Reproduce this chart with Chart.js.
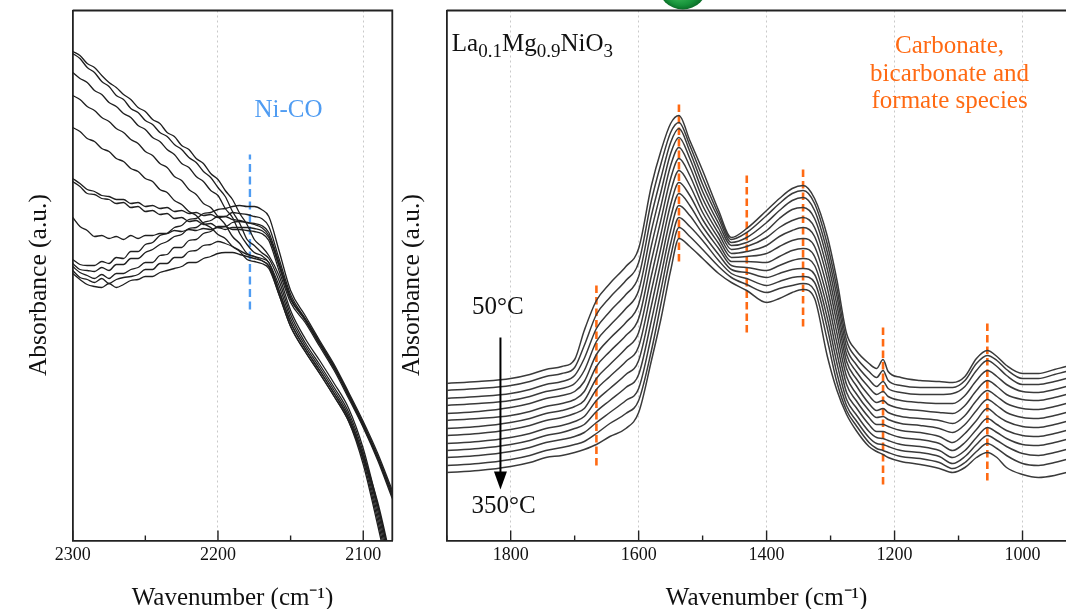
<!DOCTYPE html>
<html>
<head>
<meta charset="utf-8">
<title>DRIFTS spectra – La0.1Mg0.9NiO3</title>
<script src="https://cdn.jsdelivr.net/npm/chart.js@4.4.1/dist/chart.umd.min.js"></script>
<style>
  html, body { margin: 0; padding: 0; background: #fff; width: 1066px; height: 609px; overflow: hidden; }
  canvas { position: absolute; top: 0; }
  #left { left: 0; }
  #right { left: 390px; }
</style>
</head>
<body>
<canvas id="left" width="396" height="616"></canvas>
<canvas id="right" width="700" height="616"></canvas>
<script>
// ---------------- Left panel: Ni–CO region (2300–2080 cm-1) ----------------
const leftWavenumbers = [2300, 2295, 2290, 2285, 2280, 2275, 2270, 2265, 2260, 2255, 2250, 2245, 2240, 2235,
                         2230, 2225, 2220, 2215, 2210, 2205, 2200, 2195, 2190, 2185, 2180, 2175, 2170, 2165,
                         2158, 2150, 2140, 2130, 2120, 2110, 2100, 2090, 2080];
const leftScan1  = [489, 485, 477, 473, 465, 458, 453, 446, 441, 433, 429, 421, 417, 408, 404, 395, 391, 382, 377, 367, 361, 350, 341, 327, 316, 301, 294, 285, 265, 230, 202, 180, 157, 132, 92, 35, -30];
const leftScan2  = [487, 482, 473, 468, 459, 454, 445, 441, 432, 428, 420, 416, 408, 404, 396, 391, 383, 378, 369, 363, 353, 344, 329, 317, 301, 295, 288, 282, 260, 226, 198, 176, 153, 128, 88, 30, -35];
const leftScan3  = [468, 462, 458, 450, 446, 438, 434, 427, 423, 415, 411, 403, 399, 391, 386, 377, 373, 364, 359, 350, 345, 332, 323, 307, 296, 288, 285, 278, 255, 222, 195, 173, 150, 125, 84, 25, -40];
const leftScan4  = [445, 441, 434, 430, 423, 419, 412, 408, 401, 397, 389, 385, 377, 373, 364, 360, 351, 346, 337, 333, 324, 316, 304, 297, 287, 284, 280, 275, 250, 218, 192, 170, 147, 122, 80, 20, -45];
const leftScan5  = [413, 409, 402, 399, 392, 389, 382, 379, 372, 369, 362, 359, 351, 348, 340, 336, 329, 325, 317, 313, 306, 302, 294, 289, 281, 279, 277, 272, 246, 214, 189, 167, 144, 119, 76, 15, -50];
const leftScan6  = [362, 357, 351, 349, 345, 344, 341, 341, 337, 338, 334, 335, 332, 333, 329, 330, 327, 328, 325, 326, 323, 324, 321, 320, 318, 316, 313, 305, 275, 241, 221, 197, 173, 145, 116, 83, 46];
const leftScan7  = [359, 354, 347, 346, 342, 341, 337, 338, 333, 334, 329, 330, 326, 327, 322, 323, 319, 320, 316, 317, 313, 314, 311, 311, 310, 309, 307, 300, 270, 238, 218, 194, 170, 142, 113, 80, 42];
const leftScan8  = [323, 314, 310, 304, 305, 302, 304, 301, 305, 302, 305, 305, 307, 307, 310, 309, 311, 310, 312, 311, 313, 311, 313, 313, 313, 312, 310, 303, 275, 242, 222, 198, 174, 146, 117, 84, 47];
const leftScan9  = [281, 276, 275, 275, 279, 277, 283, 282, 289, 289, 296, 298, 305, 307, 313, 315, 321, 322, 327, 328, 331, 332, 334, 335, 334, 334, 331, 324, 290, 250, 225, 200, 176, 148, 119, 87, 50];
const leftScan10 = [277, 271, 270, 269, 273, 270, 276, 276, 282, 282, 288, 291, 296, 299, 304, 306, 312, 313, 318, 320, 324, 324, 328, 327, 326, 324, 322, 314, 282, 246, 222, 198, 174, 146, 116, 84, 47];
const leftScan11 = [274, 268, 265, 262, 266, 262, 267, 267, 271, 273, 278, 278, 285, 286, 293, 293, 300, 301, 307, 309, 314, 314, 318, 319, 318, 317, 315, 308, 278, 243, 220, 196, 172, 144, 114, 82, 44];
const leftScan12 = [270, 263, 261, 258, 262, 257, 261, 263, 264, 266, 271, 271, 277, 277, 283, 283, 289, 290, 295, 296, 299, 297, 294, 290, 286, 284, 282, 278, 250, 218, 192, 170, 147, 122, 85, 38, -25];
const leftScan13 = [267, 261, 256, 254, 253, 257, 253, 256, 260, 261, 264, 264, 268, 270, 272, 274, 278, 278, 282, 284, 287, 288, 288, 286, 284, 282, 280, 274, 246, 214, 189, 167, 144, 119, 82, 35, -30];
const leftTickLabels = ['2300', '2200', '2100'];

// Ni–CO band marker: position and vertical extent
const niCoBand = 2178;
const niCoExtent = [231, 386];

// ---------------- Right panel: carbonate / formate region ----------------
const rightWavenumbers = [1900, 1850, 1800, 1770, 1745, 1720, 1700, 1685, 1666, 1645, 1620, 1600,
                          1580, 1565, 1550, 1537, 1520, 1500, 1475, 1455, 1431, 1400, 1380, 1360,
                          1343, 1325, 1305, 1290, 1275, 1260, 1240, 1228, 1218, 1210, 1190, 1160,
                          1130, 1109, 1090, 1072, 1055, 1040, 1025, 1000, 975, 950, 925, 900];
const t50  = [157, 159, 162, 166, 171, 174, 181, 210, 240, 257, 274, 292, 355, 390, 417, 425, 400, 370, 330, 303, 312, 330, 342, 352, 355, 342, 304, 260, 207, 190, 177, 172, 181, 169, 163, 160, 159, 158, 164, 182, 190, 184, 175, 167, 167, 171, 175, 178];
const t75  = [150, 152, 155, 159, 164, 167, 173, 195, 226, 243, 260, 278, 340, 377, 408, 418, 395, 363, 326, 301, 308, 325, 337, 347, 350, 337, 296, 252, 200, 183, 169, 163, 170, 160, 155, 153, 153, 153, 160, 177, 185, 180, 171, 162, 162, 166, 170, 173];
const t100 = [142, 144, 147, 151, 156, 159, 165, 182, 212, 229, 246, 264, 325, 363, 398, 412, 389, 356, 322, 298, 303, 318, 330, 340, 343, 330, 288, 244, 193, 176, 161, 154, 159, 152, 148, 146, 146, 147, 154, 170, 180, 174, 165, 156, 156, 159, 163, 166];
const t125 = [135, 137, 140, 144, 149, 152, 157, 170, 199, 215, 232, 250, 310, 349, 387, 403, 382, 349, 317, 295, 298, 310, 322, 331, 333, 322, 280, 235, 186, 169, 153, 146, 149, 144, 140, 138, 137, 137, 145, 160, 170, 164, 156, 149, 148, 151, 155, 158];
const t150 = [127, 129, 133, 137, 142, 145, 149, 159, 186, 202, 218, 236, 295, 335, 375, 393, 374, 342, 312, 291, 294, 303, 313, 320, 323, 313, 271, 226, 179, 162, 145, 138, 140, 136, 132, 130, 128, 127, 135, 150, 160, 154, 146, 141, 140, 143, 147, 150];
const t175 = [120, 122, 125, 129, 134, 137, 141, 149, 174, 189, 205, 222, 280, 321, 362, 382, 365, 335, 307, 287, 289, 295, 304, 310, 313, 304, 262, 217, 172, 155, 137, 130, 132, 128, 124, 122, 120, 117, 125, 140, 150, 144, 137, 132, 131, 134, 138, 141];
const t200 = [112, 114, 118, 122, 127, 130, 134, 140, 162, 176, 192, 208, 265, 307, 349, 370, 355, 328, 302, 283, 284, 287, 294, 300, 302, 294, 252, 207, 164, 147, 130, 123, 124, 121, 117, 115, 112, 108, 116, 130, 141, 135, 128, 123, 122, 125, 129, 132];
const t225 = [105, 107, 111, 115, 120, 123, 127, 132, 151, 164, 179, 194, 250, 293, 336, 358, 345, 321, 297, 279, 279, 278, 284, 290, 292, 284, 242, 197, 156, 140, 123, 116, 116, 114, 110, 108, 104, 98, 107, 120, 132, 125, 119, 114, 113, 116, 120, 123];
const t250 = [97, 99, 103, 107, 112, 115, 119, 124, 140, 152, 166, 180, 235, 279, 323, 347, 335, 314, 292, 275, 273, 270, 275, 280, 282, 275, 232, 187, 148, 133, 116, 109, 109, 107, 103, 101, 97, 90, 98, 111, 122, 116, 110, 105, 104, 107, 111, 114];
const t275 = [90, 92, 96, 100, 105, 108, 112, 116, 129, 140, 153, 166, 220, 265, 310, 335, 325, 307, 286, 271, 268, 263, 267, 271, 272, 266, 222, 177, 141, 126, 109, 103, 102, 100, 96, 94, 90, 83, 90, 103, 113, 108, 102, 96, 95, 98, 102, 105];
const t300 = [83, 85, 89, 93, 98, 101, 104, 108, 118, 128, 140, 152, 205, 251, 297, 323, 314, 300, 280, 267, 262, 255, 259, 263, 264, 258, 212, 167, 135, 120, 103, 97, 96, 94, 90, 88, 84, 77, 84, 96, 105, 100, 94, 87, 85, 88, 92, 95];
const t325 = [75, 77, 81, 85, 90, 93, 96, 99, 107, 117, 127, 140, 190, 237, 284, 313, 304, 291, 274, 263, 256, 248, 252, 255, 257, 250, 200, 158, 130, 115, 98, 92, 90, 88, 84, 82, 78, 72, 78, 89, 97, 92, 85, 77, 75, 78, 82, 85];
const t350 = [68, 70, 74, 78, 83, 85, 88, 91, 96, 104, 112, 128, 180, 222, 270, 302, 294, 282, 267, 258, 250, 238, 242, 248, 251, 242, 184, 150, 126, 110, 94, 89, 86, 83, 79, 76, 72, 68, 73, 83, 88, 83, 73, 66, 63, 65, 69, 72];
const rightTickLabels = ['1800', '1600', '1400', '1200', '1000'];

// Carbonate / bicarbonate / formate band markers
const bandPositions = [1666, 1537, 1431, 1343, 1218, 1055];
const bandLows      = [75, 279, 208, 214, 56, 60];
const bandHighs     = [257, 436, 365, 371, 213, 217];

// Temperature arrow (50 °C → 350 °C)
const arrowWavenumber = 1816;
const arrowFromTo = [203, 51];

// ---------------- Shared styling ----------------
const SERIF = '"Liberation Serif", "Times New Roman", Times, serif';
const CANVAS_H = 616;
const AREA_TOP = 10.5;
const AREA_BOTTOM = 540.5;
const ORANGE = '#ff6a13';
const BLUE = '#4f9cf2';
const AXIS_COLOR = '#222';

function spectra(wavenumbers, series, color, width) {
  return series.map((values, i) => ({
    label: 'scan ' + (i + 1),
    data: values.map((v, j) => ({ x: wavenumbers[j], y: v })),
    borderColor: color,
    borderWidth: width,
    pointRadius: 0,
    fill: false,
    cubicInterpolationMode: 'monotone'
  }));
}

function marker(w, lo, hi, color, width, dash) {
  return {
    label: 'marker ' + w,
    data: [{ x: w, y: lo }, { x: w, y: hi }],
    borderColor: color,
    borderWidth: width,
    borderDash: dash,
    borderCapStyle: 'butt',
    pointRadius: 0,
    tension: 0,
    fill: false
  };
}

// Frame, inward tick marks and the text/arrow annotations
const panelNotes = {
  id: 'panelNotes',
  afterDraw(chart, args, opts) {
    const { ctx, chartArea: a, scales: { x, y } } = chart;
    ctx.save();
    ctx.strokeStyle = AXIS_COLOR;
    ctx.lineWidth = 1.8;
    ctx.beginPath();
    ctx.moveTo(a.left, a.top);
    ctx.lineTo(a.right, a.top);
    ctx.lineTo(a.right, a.bottom);
    ctx.stroke();

    ctx.lineWidth = 1.4;
    x.ticks.forEach(t => {
      const px = x.getPixelForValue(t.value);
      const len = t.label !== '' ? 10 : 5;
      ctx.beginPath();
      ctx.moveTo(px, a.bottom);
      ctx.lineTo(px, a.bottom - len);
      ctx.stroke();
    });

    (opts.texts || []).forEach(item => {
      const parts = item.parts || [[item.text, 0]];
      const size = item.size;
      const subSize = Math.round(size * 0.74);
      const widthOf = ([s, sub]) => { ctx.font = (sub ? subSize : size) + 'px ' + SERIF; return ctx.measureText(s).width; };
      const total = parts.reduce((acc, p) => acc + widthOf(p), 0);
      let px = x.getPixelForValue(item.w);
      if (item.align === 'center') px -= total / 2;
      const py = y.getPixelForValue(item.h);
      ctx.fillStyle = item.color;
      ctx.textBaseline = 'alphabetic';
      ctx.textAlign = 'left';
      parts.forEach(p => {
        const wpart = widthOf(p);
        ctx.fillText(p[0], px, py + (p[1] ? 6 : 0));
        px += wpart;
      });
    });

    if (opts.arrow) {
      const ax = x.getPixelForValue(opts.arrow.w);
      const y0 = y.getPixelForValue(opts.arrow.from);
      const y1 = y.getPixelForValue(opts.arrow.to);
      const head = 18, half = 6.5;
      ctx.strokeStyle = '#000';
      ctx.fillStyle = '#000';
      ctx.lineWidth = 2;
      ctx.beginPath();
      ctx.moveTo(ax, y0);
      ctx.lineTo(ax, y1 - head + 1);
      ctx.stroke();
      ctx.beginPath();
      ctx.moveTo(ax - half, y1 - head);
      ctx.lineTo(ax + half, y1 - head);
      ctx.lineTo(ax, y1);
      ctx.closePath();
      ctx.fill();
    }

    if (opts.badge) {
      const bx = x.getPixelForValue(opts.badge.w);
      const by = a.top - 26;
      const g = ctx.createRadialGradient(bx - 6, by + 8, 3, bx, by, 25);
      g.addColorStop(0, '#3dbb5c');
      g.addColorStop(0.7, '#16923a');
      g.addColorStop(1, '#0b6d28');
      ctx.fillStyle = g;
      ctx.beginPath();
      ctx.arc(bx, by, 25, 0, Math.PI * 2);
      ctx.fill();
    }
    ctx.restore();
  }
};

function axes(cfg) {
  return {
    x: {
      type: 'linear', reverse: true, min: cfg.min, max: cfg.max, position: 'bottom',
      afterFit: s => { s.height = CANVAS_H - AREA_BOTTOM; },
      ticks: {
        stepSize: cfg.step, includeBounds: false, autoSkip: false, maxRotation: 0, minRotation: 0,
        padding: 3.5, color: '#111', font: { family: SERIF, size: 18 },
        callback: v => cfg.labels.includes(String(v)) ? String(v) : ''
      },
      grid: {
        drawTicks: false, lineWidth: 1,
        color: c => (c.tick && cfg.labels.includes(String(c.tick.value)) && c.tick.value !== cfg.max && c.tick.value !== cfg.min) ? '#c9c9c9' : 'rgba(0,0,0,0)'
      },
      border: { display: true, color: AXIS_COLOR, width: 1.8, dash: [2, 3] },
      title: {
        display: true, text: 'Wavenumber (cm\u207B\u00B9)', color: '#111',
        font: { family: SERIF, size: 25 }, padding: { top: 0, bottom: 2.5 }
      }
    },
    y: {
      type: 'linear', min: 0, max: 530,
      afterFit: s => { s.width = cfg.yWidth; },
      ticks: { display: false },
      grid: { display: false, drawTicks: false },
      border: { display: true, color: AXIS_COLOR, width: 1.8 },
      title: {
        display: true, text: 'Absorbance (a.u.)   ', color: '#111',
        font: { family: SERIF, size: 25.5 }, padding: { top: cfg.yTitlePad, bottom: 0 }
      }
    }
  };
}

const baseOptions = {
  responsive: false,
  animation: false,
  events: [],
  plugins: { legend: { display: false }, tooltip: { enabled: false } }
};

// ---------------- Left chart ----------------
new Chart(document.getElementById('left'), {
  type: 'line',
  data: {
    datasets: [
      ...spectra(leftWavenumbers,
        [leftScan1, leftScan2, leftScan3, leftScan4, leftScan5, leftScan6, leftScan7,
         leftScan8, leftScan9, leftScan10, leftScan11, leftScan12, leftScan13], '#1f1f1f', 1.3),
      marker(niCoBand, niCoExtent[0], niCoExtent[1], BLUE, 2.4, [8, 4.5])
    ]
  },
  options: {
    ...baseOptions,
    layout: { padding: { top: AREA_TOP, right: 3.7, left: 0, bottom: 0 } },
    scales: axes({ min: 2080, max: 2300, step: 50, labels: leftTickLabels, yWidth: 72.7, yTitlePad: 23.5 }),
    plugins: {
      ...baseOptions.plugins,
      panelNotes: {
        texts: [{ text: 'Ni-CO', w: 2151.5, h: 424, size: 25, color: BLUE, align: 'center' }]
      }
    }
  },
  plugins: [panelNotes]
});

// ---------------- Right chart ----------------
new Chart(document.getElementById('right'), {
  type: 'line',
  data: {
    datasets: [
      ...spectra(rightWavenumbers,
        [t50, t75, t100, t125, t150, t175, t200, t225, t250, t275, t300, t325, t350], '#3a3a3a', 1.5),
      ...bandPositions.map((w, i) => marker(w, bandLows[i], bandHighs[i], ORANGE, 2.6, [7.5, 4]))
    ]
  },
  options: {
    ...baseOptions,
    layout: { padding: { top: AREA_TOP, right: 3, left: 0, bottom: 0 } },
    scales: axes({ min: 900, max: 1900, step: 100, labels: rightTickLabels, yWidth: 56.7, yTitlePad: 7 }),
    plugins: {
      ...baseOptions.plugins,
      panelNotes: {
        texts: [
          { parts: [['La', 0], ['0.1', 1], ['Mg', 0], ['0.9', 1], ['NiO', 0], ['3', 1]], w: 1892, h: 490, size: 25, color: '#111', align: 'left' },
          { text: 'Carbonate,', w: 1114, h: 488, size: 25, color: ORANGE, align: 'center' },
          { text: 'bicarbonate and', w: 1114, h: 460, size: 25, color: ORANGE, align: 'center' },
          { text: 'formate species', w: 1114, h: 433, size: 25, color: ORANGE, align: 'center' },
          { text: '50\u00B0C', w: 1820, h: 227, size: 25, color: '#111', align: 'center' },
          { text: '350\u00B0C', w: 1811, h: 28, size: 25, color: '#111', align: 'center' }
        ],
        arrow: { w: arrowWavenumber, from: arrowFromTo[0], to: arrowFromTo[1] },
        badge: { w: 1531 }
      }
    }
  },
  plugins: [panelNotes]
});
</script>
</body>
</html>
